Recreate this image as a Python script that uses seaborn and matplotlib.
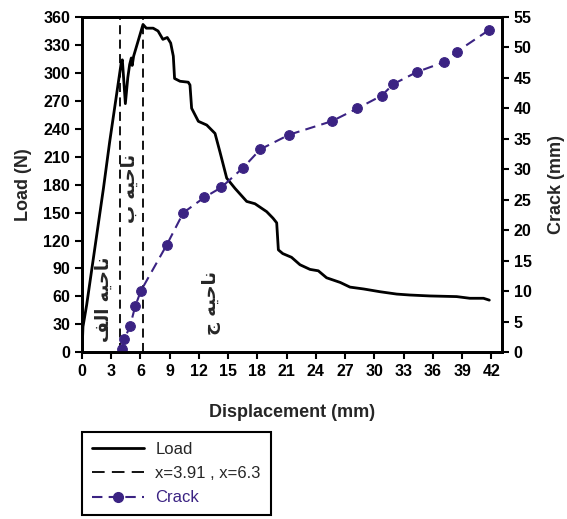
import matplotlib
matplotlib.use("Agg")
import matplotlib.pyplot as plt
from matplotlib.lines import Line2D
import seaborn as sns
import pandas as pd

# Load–displacement record
load_disp = [0, 0.1, 0.48, 2.2, 2.84, 4.04, 4.14, 4.3, 4.45, 4.7, 4.89, 5.06, 5.15, 5.3,
             6.26, 6.6, 7.3, 7.8, 8.3, 8.75, 9.1, 9.37, 9.5, 10.06, 10.9, 11.08, 11.25,
             11.94, 12.8, 13.65, 14.16, 14.85, 15.7, 16.9, 17.75, 18.95, 19.6, 19.98,
             20.15, 20.6, 21.5, 22.37, 23.4, 24.25, 25.1, 26.5, 27.5, 28.9, 30.6, 32.3,
             33.65, 35.7, 38.45, 39.8, 41.2, 41.8]
load_n = [0, 27.5, 51, 176, 226, 312, 314, 290, 267, 295, 309, 316, 308, 318,
          352, 348, 348, 345, 336, 338, 332, 318, 294, 291, 290, 287, 262,
          248, 244, 235, 215, 187, 176, 162, 159.5, 151, 144, 139,
          110, 106, 102, 94, 89, 87.5, 80, 75, 70, 68, 65, 62.5,
          61.5, 60.5, 59.8, 58, 58, 56]

# Crack length measurements
crack_disp = [4.14, 4.34, 4.93, 5.47, 6.05, 8.69, 10.4, 12.55, 14.3, 16.55, 18.3,
              21.27, 25.62, 28.25, 30.75, 31.95, 34.4, 37.15, 38.45, 41.8]
crack_mm = [0.5, 2.1, 4.3, 7.6, 10.1, 17.6, 22.9, 25.4, 27.05, 30.3, 33.3,
            35.7, 37.9, 40.0, 42.1, 44.0, 46.0, 47.6, 49.3, 52.9]

# Zone boundaries
bounds = [3.91, 6.3]

x_ticks = list(range(0, 43, 3))
load_ticks = list(range(0, 361, 30))
crack_ticks = list(range(0, 56, 5))

# Zone labels (Persian, pre-shaped glyphs in visual order)
zone_a = "\uFED2\uFEDF\uFE8D \uFEEA\uFEF4\uFEA3\uFE8E\uFEE7"   # ناحیه الف
zone_b = "\uFE8F \uFEEA\uFEF4\uFEA3\uFE8E\uFEE7"               # ناحیه ب
zone_c = "\uFE9D \uFEEA\uFEF4\uFEA3\uFE8E\uFEE7"               # ناحیه ج

purple = "#3b2383"

sns.set_style("ticks")
plt.rcParams["font.family"] = ["Liberation Sans", "DejaVu Sans"]

fig = plt.figure(figsize=(5.67, 5.19), dpi=100)
ax = fig.add_axes([82 / 567, 1 - 352.3 / 519, 420 / 567, 335.3 / 519])
ax2 = ax.twinx()

load_df = pd.DataFrame({"disp": load_disp, "load": load_n})
crack_df = pd.DataFrame({"disp": crack_disp, "crack": crack_mm})

sns.lineplot(data=load_df, x="disp", y="load", ax=ax, color="black", lw=2,
             estimator=None, sort=False)
for b in bounds:
    ax.axvline(b, color="black", lw=1.3, linestyle=(0, (5, 3)))

sns.lineplot(data=crack_df, x="disp", y="crack", ax=ax2, color=purple, lw=1.5,
             linestyle=(0, (5, 3)), marker="o", markersize=7, markeredgecolor=purple,
             estimator=None, sort=False)

ax.set_xlim(0, 43.1)
ax.set_ylim(0, 360)
ax2.set_ylim(0, 55)
ax.set_xticks(x_ticks)
ax.set_yticks(load_ticks)
ax2.set_yticks(crack_ticks)

tick_font = dict(fontsize=11.5, fontweight="bold")
ax.set_xticklabels([str(v) for v in x_ticks], **tick_font)
ax.set_yticklabels([str(v) for v in load_ticks], **tick_font)
ax2.set_yticklabels([str(v) for v in crack_ticks], **tick_font)

ax.set_xlabel("Displacement (mm)", fontsize=13, fontweight="bold", labelpad=18)
ax.set_ylabel("Load (N)", fontsize=13, fontweight="bold", labelpad=8)
ax2.set_ylabel("Crack (mm)", fontsize=13, fontweight="bold", rotation=90, labelpad=12)

for a in (ax, ax2):
    a.tick_params(direction="out", length=5, width=1.5, colors="black")
    for s in a.spines.values():
        s.set_visible(True)
        s.set_linewidth(2)
        s.set_color("black")

zone_font = dict(fontsize=13, fontweight="bold", rotation=90, ha="center", va="center",
                 family=["DejaVu Sans"])
ax.text(2.25, 57, zone_a, **zone_font)
ax.text(4.95, 176, zone_b, **zone_font)
ax.text(13.3, 53, zone_c, **zone_font)

handles = [
    Line2D([], [], color="black", lw=2),
    Line2D([], [], color="black", lw=1.3, linestyle=(0, (7, 4))),
    Line2D([], [], color=purple, lw=1.5, linestyle=(0, (5, 3)), marker="o", markersize=7),
]
labels = ["Load", "x=3.91 , x=6.3", "Crack"]
leg = fig.legend(handles, labels, loc="upper left",
                 bbox_to_anchor=(82 / 567, 1 - 432 / 519), fontsize=12,
                 frameon=True, fancybox=False, edgecolor="black", framealpha=1,
                 handlelength=3.1, handletextpad=0.7, labelspacing=0.55,
                 borderpad=0.6, borderaxespad=0)
leg.get_frame().set_linewidth(1.5)
leg.get_texts()[2].set_color(purple)

fig.savefig("out.png", dpi=100)
